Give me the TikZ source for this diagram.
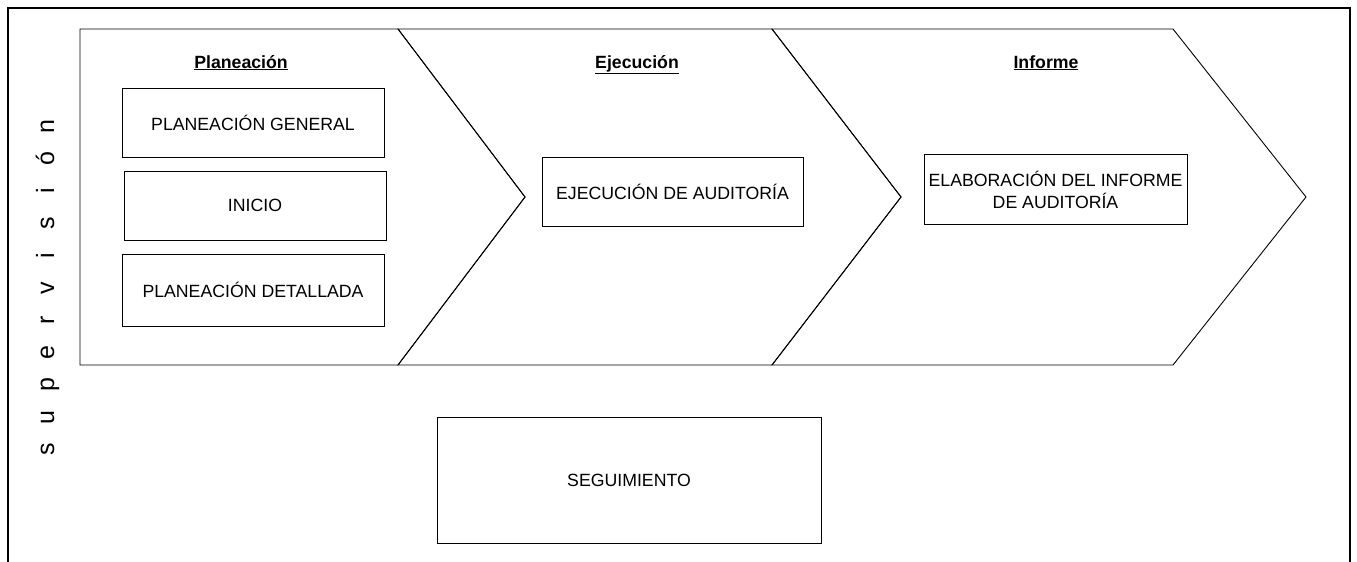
\documentclass[tikz,border=0pt]{standalone}
\usepackage{fontspec}
\setmainfont{Liberation Sans}
\newcommand\supl[1]{\makebox[32.3pt]{#1}}
\begin{document}
\begin{tikzpicture}[x=1pt,y=-1pt,line join=miter,
  box/.style={draw,line width=0.9pt,inner sep=0pt,outer sep=0pt,anchor=north west},
  txt/.style={font=\fontsize{17.7}{21.5}\selectfont,align=center,inner sep=0pt},
  head/.style={font=\bfseries\fontsize{17.7}{22}\selectfont,anchor=base,inner sep=0pt},
  chev/.style={draw,line width=0.9pt}]
\useasboundingbox (0,0) rectangle (1357,562);
% outer frame (open at the bottom)
\draw[line width=1.6pt] (8,562) -- (8,8) -- (1350,8) -- (1350,562);
% chevrons
\draw[chev] (80,29) -- (398,29) -- (525,197) -- (398,365) -- (80,365) -- cycle;
\draw[chev] (398,29) -- (772,29) -- (901,197) -- (772,365) -- (398,365) -- (525,197) -- cycle;
\draw[chev] (772,29) -- (1173,29) -- (1306,197) -- (1173,365) -- (772,365) -- (901,197) -- cycle;
% headers
\node[head] (hplan) at (241,68) {\underline{Planeación}};
\node[head] (hejec) at (637,68) {\underline{Ejecución}};
\node[head] (hinf) at (1046,68) {\underline{Informe}};
% boxes
\node[box,minimum width=262pt,minimum height=69pt] (pg) at (122,88) {};
\node[txt] (pgt) at (pg.center) {PLANEACIÓN GENERAL};
\node[box,minimum width=262pt,minimum height=69pt] (ini) at (124,171) {};
\node[txt] (init) at (ini.center) {INICIO};
\node[box,minimum width=262pt,minimum height=72pt] (pd) at (122,254) {};
\node[txt] (pdt) at (pd.center) {PLANEACIÓN DETALLADA};
\node[box,minimum width=261pt,minimum height=69pt] (eje) at (542,157) {};
\node[txt] (ejet) at (eje.center) {EJECUCIÓN DE AUDITORÍA};
\node[box,minimum width=263pt,minimum height=70pt] (ela) at (924,154) {};
\node[txt] (elat) at ([yshift=-1pt]ela.center) {ELABORACIÓN DEL INFORME\\DE AUDITORÍA};
\node[box,minimum width=384pt,minimum height=126pt] (seg) at (437,417) {};
\node[txt] (segt) at (seg.center) {SEGUIMIENTO};
% vertical label
\node[rotate=90,anchor=base,inner sep=0pt,font=\fontsize{25}{30}\selectfont] (sup) at (54,288)
  {\supl{s}\supl{u}\supl{p}\supl{e}\supl{r}\supl{v}\supl{i}\supl{s}\supl{i}\supl{ó}\supl{n}};
\end{tikzpicture}
\end{document}
